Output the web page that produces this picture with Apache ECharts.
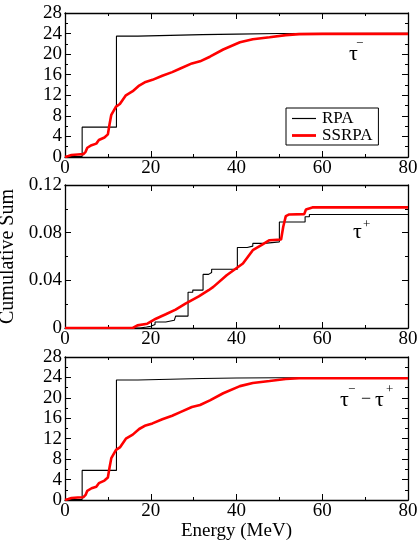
<!DOCTYPE html>
<html>
<head>
<meta charset="utf-8">
<script src="https://cdn.jsdelivr.net/npm/echarts@6/dist/echarts.min.js"></script>
<style>
  html, body { margin: 0; padding: 0; background: #fff; }
  #chart { width: 420px; height: 542px; }
</style>
</head>
<body>
<div id="chart"></div>
<script>
// tau- panel
const rpaMinus = [[0, 0.1], [4, 5.8], [12, 23.5], [17, 23.6], [22, 23.7], [27, 23.8], [32, 23.9], [40, 24.0], [50, 24.05], [80, 24.05]]
const ssrpaMinus = [[0, 0], [0.8, 0.2], [1.5, 0.4], [3, 0.5], [4.3, 0.55], [4.8, 1], [5.2, 1.8], [6.2, 2.3], [7.3, 2.6], [7.9, 3.3],
  [9.2, 3.8], [10, 4.4], [10.4, 6.4], [10.8, 8.2], [11.9, 9.8], [12.8, 10.3], [14.2, 12], [15.8, 12.8], [17.3, 13.9], [18.8, 14.6],
  [20.4, 15], [22.7, 15.8], [25, 16.5], [26.9, 17.2], [29.6, 18.2], [31.5, 18.6], [33.8, 19.5], [36.9, 20.9], [40.8, 22.3],
  [43.8, 22.9], [47.7, 23.3], [51.5, 23.7], [54.6, 23.9], [60, 23.95], [80, 23.95]]

// tau+ panel
const rpaPlus = [[0, 0], [17.5, 0.0008], [19, 0.0015], [20, 0.003], [21, 0.005], [23.5, 0.0065], [25.5, 0.0075], [25.8, 0.010],
  [28.7, 0.030], [29.8, 0.0318], [32.2, 0.045], [33.5, 0.0465], [34.2, 0.0493], [40.2, 0.0676], [42.5, 0.0687], [43.8, 0.071],
  [46.5, 0.0723], [50, 0.089], [56, 0.0934], [57, 0.0953], [80, 0.0953]]
const ssrpaPlus = [[0, 0], [15.8, 0], [16.9, 0.0022], [19.2, 0.0036], [21.2, 0.0078], [23.5, 0.0115], [25.8, 0.0154], [28.1, 0.0205],
  [31.2, 0.0266], [33.5, 0.0317], [34.6, 0.0345], [37.7, 0.0443], [41.5, 0.0541], [43.8, 0.0653], [45.8, 0.0695], [47.7, 0.0737],
  [50.4, 0.0743], [50.9, 0.085], [51.5, 0.0939], [52.3, 0.0953], [55.8, 0.0956], [56.2, 0.0995], [57.7, 0.1012], [80, 0.1012]]

// tau- - tau+ panel
const rpaDiff = [[0, 0.1], [4, 5.8], [12, 23.5], [17, 23.6], [22, 23.7], [27, 23.8], [32, 23.9], [40, 23.95], [50, 23.95], [80, 23.95]]
const ssrpaDiff = [[0, 0], [0.8, 0.2], [1.5, 0.4], [3, 0.5], [4.3, 0.55], [4.8, 1], [5.2, 1.8], [6.2, 2.3], [7.3, 2.6], [7.9, 3.3],
  [9.2, 3.8], [10, 4.4], [10.4, 6.4], [10.8, 8.2], [11.9, 9.8], [12.8, 10.3], [14.2, 12], [15.8, 12.8], [17.3, 13.9], [18.8, 14.6],
  [20.4, 15], [22.7, 15.8], [25, 16.5], [26.9, 17.2], [29.6, 18.2], [31.5, 18.6], [33.8, 19.5], [36.9, 20.9], [40.8, 22.3],
  [43.8, 22.9], [47.7, 23.3], [51.5, 23.7], [54.6, 23.85], [60, 23.85], [80, 23.85]]

const xTicks = [0, 20, 40, 60, 80]
const yMaxBig = 28
const yMaxSmall = 0.12

const FONT = 'Liberation Serif'
const chart = echarts.init(document.getElementById('chart'))

const grids = [
  { left: 65, right: 12, top: 13, height: 144, outerBoundsMode: 'none' },
  { left: 65, right: 12, top: 185, height: 143, outerBoundsMode: 'none' },
  { left: 65, right: 12, top: 357, height: 143, outerBoundsMode: 'none' },
]

const frame = { show: true, onZero: false, lineStyle: { color: '#000', width: 1.3 } }
const tick = { show: true, inside: true, length: 6, lineStyle: { color: '#000', width: 1 } }
const minor = { show: true, splitNumber: 2, length: 3, lineStyle: { color: '#000', width: 1 } }

const xAxis = []
const yAxis = []
const yInfo = [[yMaxBig, 4], [yMaxSmall, 0.04], [yMaxBig, 4]]
grids.forEach((g, i) => {
  const xBase = {
    type: 'value', gridIndex: i, min: xTicks[0], max: xTicks[xTicks.length - 1], interval: 20,
    axisLine: frame, axisTick: tick, minorTick: minor, splitLine: { show: false },
  }
  xAxis.push(Object.assign({}, xBase, {
    position: 'bottom',
    axisLabel: { color: '#000', fontFamily: FONT, fontSize: 19, margin: 2 },
  }, i === 2 ? {
    name: 'Energy (MeV)', nameLocation: 'middle', nameGap: 22,
    nameTextStyle: { color: '#000', fontFamily: FONT, fontSize: 19 },
  } : {}))
  xAxis.push(Object.assign({}, xBase, { position: 'top', axisLabel: { show: false } }))

  const yBase = {
    type: 'value', gridIndex: i, min: 0, max: yInfo[i][0], interval: yInfo[i][1],
    axisLine: frame, axisTick: tick, minorTick: minor, splitLine: { show: false },
  }
  yAxis.push(Object.assign({}, yBase, {
    position: 'left',
    axisLabel: { color: '#000', fontFamily: FONT, fontSize: 19, margin: 3 },
  }, i === 1 ? {
    name: 'Cumulative Sum', nameLocation: 'middle', nameGap: 40, nameRotate: 90,
    nameTextStyle: { color: '#000', fontFamily: FONT, fontSize: 20 },
  } : {}))
  yAxis.push(Object.assign({}, yBase, { position: 'right', axisLabel: { show: false } }))
})

const panels = [[rpaMinus, ssrpaMinus], [rpaPlus, ssrpaPlus], [rpaDiff, ssrpaDiff]]
const series = []
panels.forEach((p, i) => {
  series.push({
    name: 'RPA', type: 'line', step: 'end', data: p[0], xAxisIndex: 2 * i, yAxisIndex: 2 * i,
    symbol: 'none', lineStyle: { color: '#000', width: 1.1 }, itemStyle: { color: '#000' }, silent: true,
  })
  series.push({
    name: 'SSRPA', type: 'line', data: p[1], xAxisIndex: 2 * i, yAxisIndex: 2 * i,
    symbol: 'none', lineStyle: { color: '#ff0000', width: 2.6 }, itemStyle: { color: '#ff0000' }, silent: true,
  })
})

function txt(x, y, text, size) {
  return {
    type: 'text', x: x, y: y,
    style: { text: text, fontSize: size, fontFamily: FONT, fill: '#000', align: 'left', verticalAlign: 'bottom' },
  }
}

chart.setOption({
  animation: false,
  grid: grids,
  xAxis: xAxis,
  yAxis: yAxis,
  legend: {
    data: [
      { name: 'RPA', icon: 'path://M0,0H24V1.2H0Z' },
      { name: 'SSRPA', icon: 'path://M0,0H24V2.8H0Z' },
    ],
    orient: 'vertical', left: 286, top: 108,
    padding: [2, 6, 1, 6], itemGap: 0, itemWidth: 24, itemHeight: 14,
    borderColor: '#000', borderWidth: 1, borderRadius: 0, backgroundColor: '#fff',
    textStyle: { color: '#000', fontFamily: FONT, fontSize: 17, padding: [0, 0, 0, 1] },
    selectedMode: false,
  },
  graphic: [
    // tau- label
    txt(349, 65, 'τ', 22), txt(356, 50, '−', 13),
    // tau+ label
    txt(353, 243, 'τ', 22), txt(363, 231, '+', 13),
    // tau- - tau+ label
    txt(340, 411, 'τ', 22), txt(348, 396, '−', 13),
    txt(361, 408, '−', 18),
    txt(375, 411, 'τ', 22), txt(386, 396, '+', 13),
  ],
  series: series,
})
</script>
</body>
</html>
